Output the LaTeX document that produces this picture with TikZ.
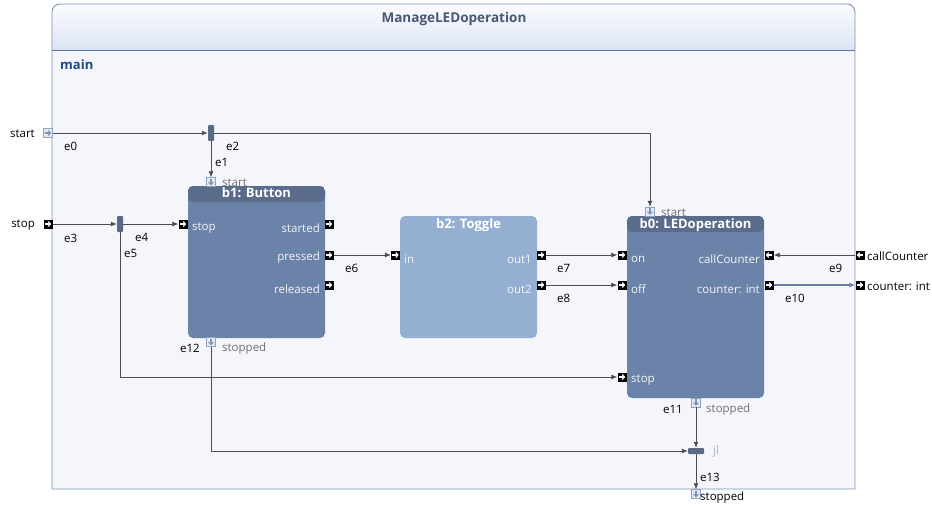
\documentclass[tikz,border=0pt]{standalone}
\usepackage{fontspec}
\setmainfont{Open Sans}
\usetikzlibrary{arrows.meta}

\definecolor{framec}{HTML}{7F93B3}
\definecolor{bodybg}{HTML}{F4F6FB}
\definecolor{headtop}{HTML}{FAFBFE}
\definecolor{headbot}{HTML}{DCE5F4}
\definecolor{headline}{HTML}{60759A}
\definecolor{titlec}{HTML}{4A5873}
\definecolor{mainc}{HTML}{1F4A7F}
\definecolor{blkbody}{HTML}{6B83A8}
\definecolor{blkhead}{HTML}{5A6C8A}
\definecolor{blklight}{HTML}{94AFD1}
\definecolor{wirec}{HTML}{4D4D4D}
\definecolor{busc}{HTML}{6A7FA3}
\definecolor{forkc}{HTML}{5A6A85}
\definecolor{portedge}{HTML}{8EA3C2}
\definecolor{portfill}{HTML}{E3EAF4}
\definecolor{graytxt}{HTML}{707070}

\tikzset{
  txt/.style={font=\fontsize{11.5}{13}\selectfont, inner sep=0pt},
  elbl/.style={txt, text=black},
  glbl/.style={txt, text=graytxt},
  inlbl/.style={txt, text=white!92!blkbody},
  blktitle/.style={font=\bfseries\fontsize{13}{15}\selectfont, text=white, inner sep=1pt},
  block/.style={rectangle, rounded corners=5pt, fill=blkbody, minimum width=137pt,
    path picture={\fill[blkhead] (path picture bounding box.north west)
      rectangle ([yshift=-16pt]path picture bounding box.north east);}},
  lightblock/.style={rectangle, rounded corners=5pt, fill=blklight, minimum width=137pt},
  portdk/.style={rectangle, minimum size=9pt, inner sep=0pt, fill=black},
  portlt/.style={rectangle, minimum size=9pt, inner sep=0pt, draw=portedge, fill=portfill},
  glyph/.style={line width=1.1pt, -{Straight Barb[length=2.2pt,width=5pt]}},
  arrR/.style={path picture={\draw[glyph,#1] ([xshift=1.3pt]path picture bounding box.west)
      -- ([xshift=-1.3pt]path picture bounding box.east);}},
  arrR/.default=white,
  arrL/.style={path picture={\draw[glyph,#1] ([xshift=-1.3pt]path picture bounding box.east)
      -- ([xshift=1.3pt]path picture bounding box.west);}},
  arrL/.default=white,
  arrD/.style={path picture={\draw[glyph,#1] ([yshift=-1.3pt]path picture bounding box.north)
      -- ([yshift=1.3pt]path picture bounding box.south);}},
  arrD/.default=framec,
  fork/.style={rectangle, rounded corners=1pt, fill=forkc, inner sep=0pt},
  wire/.style={draw=wirec, line width=0.8pt, -{Latex[length=6pt,width=5pt]}},
  bus/.style={draw=busc, line width=1.8pt, -{Latex[length=6pt,width=5pt]}}
}

\begin{document}
\begin{tikzpicture}[x=1pt, y=-1pt]
\useasboundingbox (0,0) rectangle (932,508);

% outer frame
\fill[bodybg] (52,489) -- (52,12) arc[start angle=180, end angle=270, radius=8]
  -- (847,4) arc[start angle=270, end angle=360, radius=8] -- (855,489) -- cycle;
\shade[top color=headtop, bottom color=headbot] (52,50) -- (52,12)
  arc[start angle=180, end angle=270, radius=8] -- (847,4)
  arc[start angle=270, end angle=360, radius=8] -- (855,50) -- cycle;
\draw[headline, line width=0.8pt] (52,50) -- (855,50);
\draw[framec, line width=0.9pt] (52,489) -- (52,12) arc[start angle=180, end angle=270, radius=8]
  -- (847,4) arc[start angle=270, end angle=360, radius=8] -- (855,489) -- cycle;
\node[font=\bfseries\fontsize{13.5}{15}\selectfont, text=titlec] (title) at (454,19) {ManageLEDoperation};
\node[font=\bfseries\fontsize{13}{15}\selectfont, text=mainc, anchor=west, inner sep=0pt] (main) at (60,65) {main};

% blocks
\node[block, minimum height=152pt,
  label={[blktitle, anchor=north, yshift=-1pt]north:b1: Button}] (b1) at (256.5,262) {};
\node[lightblock, minimum height=122pt,
  label={[blktitle, anchor=north, yshift=-2pt]north:b2: Toggle}] (b2) at (468.5,277) {};
\node[block, minimum height=182pt,
  label={[blktitle, anchor=north, yshift=-2pt]north:b0: LEDoperation}] (b0) at (695.5,307) {};

% ports
\node[portlt, arrR=framec] (pstart) at (48,133) {};
\node[portdk, arrR] (pstop) at (48,224) {};
\node[portdk, arrL] (pcall) at (860,255) {};
\node[portdk, arrR] (pcnt) at (860,285) {};
\node[portlt, arrD] (pstopped) at (696,494) {};

\node[portlt, arrD] (b1start) at (211,182) {};
\node[portdk, arrR] (b1stop) at (183,224) {};
\node[portdk, arrR] (b1started) at (329,224) {};
\node[portdk, arrR] (b1pressed) at (329,255) {};
\node[portdk, arrR] (b1released) at (329,285) {};
\node[portlt, arrD] (b1stopped) at (211,342) {};

\node[portdk, arrR] (b2in) at (395.5,255) {};
\node[portdk, arrR] (b2out1) at (541,255) {};
\node[portdk, arrR] (b2out2) at (541,285) {};

\node[portlt, arrD] (b0start) at (650,211.5) {};
\node[portdk, arrR] (b0on) at (622,255) {};
\node[portdk, arrR] (b0off) at (622,285) {};
\node[portdk, arrR] (b0stop) at (622,377) {};
\node[portdk, arrL] (b0call) at (769,255) {};
\node[portdk, arrR] (b0cnt) at (769,285) {};
\node[portlt, arrD] (b0stopped) at (696,402.5) {};

% forks and join
\node[fork, minimum width=6pt, minimum height=16pt] (fk1) at (211,133) {};
\node[fork, minimum width=6pt, minimum height=16pt] (fk2) at (120,224) {};
\node[fork, minimum width=16pt, minimum height=6pt] (jn) at (696,451) {};

% port names
\node[elbl, anchor=east] (lstart) at (35,134) {start};
\node[elbl, anchor=east] (lstop) at (35,225) {stop};
\node[elbl, anchor=west] (lcall) at (867,256) {callCounter};
\node[elbl, anchor=west] (lcnt) at (867,286) {counter: int};
\node[elbl, anchor=west] (lstopped) at (700,498) {stopped};

\node[glbl, anchor=west] (lb1start) at (222,183) {start};
\node[inlbl, anchor=west] (lb1stop) at (192,228) {stop};
\node[inlbl, anchor=east] (lb1started) at (320,228) {started};
\node[inlbl, anchor=east] (lb1pressed) at (320,258) {pressed};
\node[inlbl, anchor=east] (lb1released) at (320,289) {released};
\node[glbl, anchor=west] (lb1stopped) at (222,349) {stopped};

\node[inlbl, anchor=west] (lb2in) at (404,259) {in};
\node[inlbl, anchor=east] (lb2out1) at (532,259) {out1};
\node[inlbl, anchor=east] (lb2out2) at (532,289) {out2};

\node[glbl, anchor=west] (lb0start) at (661,213) {start};
\node[inlbl, anchor=west] (lb0on) at (631,259) {on};
\node[inlbl, anchor=west] (lb0off) at (631,289) {off};
\node[inlbl, anchor=west] (lb0stop) at (631,380) {stop};
\node[inlbl, anchor=east] (lb0call) at (760,259) {callCounter};
\node[inlbl, anchor=east] (lb0cnt) at (760,289) {counter: int};
\node[glbl, anchor=west] (lb0stopped) at (706,410) {stopped};
\node[txt, text=framec!70, anchor=west] (ljn) at (713,452) {jl};

% connectors
\draw[wire] (pstart) -- (fk1);
\draw[wire] (fk1) -| (b0start);
\draw[wire] (fk1) -- (b1start);
\draw[wire] (pstop) -- (fk2);
\draw[wire] (fk2) -- (b1stop);
\draw[wire] (fk2) |- (b0stop);
\draw[wire] (b1pressed) -- (b2in);
\draw[wire] (b2out1) -- (b0on);
\draw[wire] (b2out2) -- (b0off);
\draw[wire] (pcall) -- (b0call);
\draw[bus] (b0cnt) -- (pcnt);
\draw[wire] (b0stopped) -- (jn);
\draw[wire] (b1stopped) |- (jn);
\draw[wire] (jn) -- (pstopped);

% connector names
\node[elbl, anchor=west] (le0) at (64,146) {e0};
\node[elbl, anchor=west] (le1) at (215,162) {e1};
\node[elbl, anchor=west] (le2) at (226,146) {e2};
\node[elbl, anchor=west] (le3) at (64,238) {e3};
\node[elbl, anchor=west] (le4) at (135,237) {e4};
\node[elbl, anchor=west] (le5) at (124,253) {e5};
\node[elbl, anchor=west] (le6) at (345,268) {e6};
\node[elbl, anchor=west] (le7) at (557,268) {e7};
\node[elbl, anchor=west] (le8) at (557,298) {e8};
\node[elbl, anchor=west] (le9) at (829,268) {e9};
\node[elbl, anchor=west] (le10) at (785,298) {e10};
\node[elbl, anchor=west] (le11) at (663,409) {e11};
\node[elbl, anchor=west] (le12) at (180,348) {e12};
\node[elbl, anchor=west] (le13) at (700,477) {e13};
\end{tikzpicture}
\end{document}
